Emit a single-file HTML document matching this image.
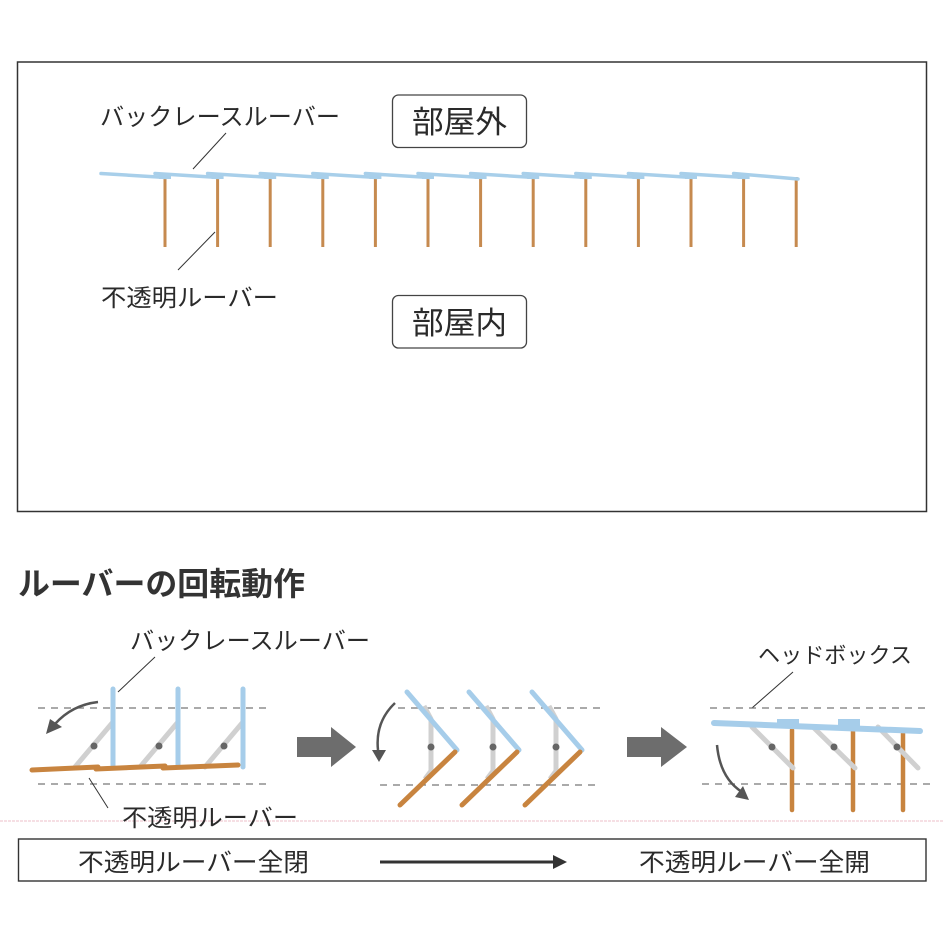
<!DOCTYPE html>
<html><head><meta charset="utf-8"><style>
html,body{margin:0;padding:0;background:#fff;}
svg{display:block;}
text{font-family:"Liberation Sans","Noto Sans CJK JP",sans-serif;fill:#2a2a2a;}
</style></head><body>
<svg width="944" height="944" viewBox="0 0 944 944" xmlns="http://www.w3.org/2000/svg">
<rect x="0" y="0" width="944" height="944" fill="#fff"/>
<!-- top frame -->
<rect x="17.5" y="62" width="909" height="449.5" fill="none" stroke="#333" stroke-width="1.5"/>

<!-- top labels -->
<text x="100" y="125" font-size="24" textLength="240" lengthAdjust="spacingAndGlyphs">バックレースルーバー</text>
<line x1="193" y1="169" x2="226" y2="133" stroke="#333" stroke-width="1"/>
<text x="101" y="306" font-size="24" textLength="177" lengthAdjust="spacingAndGlyphs">不透明ルーバー</text>
<line x1="178" y1="270" x2="215" y2="232" stroke="#333" stroke-width="1"/>

<rect x="392.5" y="95" width="134" height="52.5" rx="6" fill="#fff" stroke="#444" stroke-width="1.3"/>
<text x="459.5" y="133" font-size="31" text-anchor="middle" textLength="95" lengthAdjust="spacingAndGlyphs">部屋外</text>
<rect x="392.5" y="295.5" width="134" height="52.5" rx="6" fill="#fff" stroke="#444" stroke-width="1.3"/>
<text x="459.5" y="334" font-size="31" text-anchor="middle" textLength="95" lengthAdjust="spacingAndGlyphs">部屋内</text>

<!-- top louvers -->
<g stroke="#c68a4f" stroke-width="3">
<line x1="165" y1="177" x2="165" y2="247"/>
<line x1="217.6" y1="177" x2="217.6" y2="247"/>
<line x1="270.2" y1="177" x2="270.2" y2="247"/>
<line x1="322.8" y1="177" x2="322.8" y2="247"/>
<line x1="375.4" y1="177" x2="375.4" y2="247"/>
<line x1="428" y1="177" x2="428" y2="247"/>
<line x1="480.6" y1="177" x2="480.6" y2="247"/>
<line x1="533.2" y1="177" x2="533.2" y2="247"/>
<line x1="585.8" y1="177" x2="585.8" y2="247"/>
<line x1="638.4" y1="177" x2="638.4" y2="247"/>
<line x1="691" y1="177" x2="691" y2="247"/>
<line x1="743.6" y1="177" x2="743.6" y2="247"/>
<line x1="796.2" y1="177" x2="796.2" y2="247"/>
</g>
<g stroke="#a8cfea" stroke-width="3.5" stroke-linecap="round">
<line x1="101" y1="173.5" x2="166" y2="177.5"/>
<line x1="155" y1="173.5" x2="219" y2="177.5"/>
<line x1="207.6" y1="173.5" x2="271.6" y2="177.5"/>
<line x1="260.2" y1="173.5" x2="324.2" y2="177.5"/>
<line x1="312.8" y1="173.5" x2="376.8" y2="177.5"/>
<line x1="365.4" y1="173.5" x2="429.4" y2="177.5"/>
<line x1="418" y1="173.5" x2="482" y2="177.5"/>
<line x1="470.6" y1="173.5" x2="534.6" y2="177.5"/>
<line x1="523.2" y1="173.5" x2="587.2" y2="177.5"/>
<line x1="575.8" y1="173.5" x2="639.8" y2="177.5"/>
<line x1="628.4" y1="173.5" x2="692.4" y2="177.5"/>
<line x1="681" y1="173.5" x2="745" y2="177.5"/>
<line x1="733.6" y1="173.5" x2="798" y2="179"/>
</g>
<g fill="#a8cfea">
<rect x="159" y="174" width="12" height="5"/>
<rect x="211.6" y="174" width="12" height="5"/>
<rect x="264.2" y="174" width="12" height="5"/>
<rect x="316.8" y="174" width="12" height="5"/>
<rect x="369.4" y="174" width="12" height="5"/>
<rect x="422" y="174" width="12" height="5"/>
<rect x="474.6" y="174" width="12" height="5"/>
<rect x="527.2" y="174" width="12" height="5"/>
<rect x="579.8" y="174" width="12" height="5"/>
<rect x="632.4" y="174" width="12" height="5"/>
<rect x="685" y="174" width="12" height="5"/>
<rect x="737.6" y="174" width="12" height="5"/>
</g>

<!-- heading -->
<text x="18" y="595" font-size="32" font-weight="bold" fill="#333" style="fill:#333" textLength="287" lengthAdjust="spacingAndGlyphs">ルーバーの回転動作</text>

<!-- pink scan line -->
<line x1="0" y1="821" x2="944" y2="821" stroke="#f0ccd4" stroke-width="1.2" stroke-dasharray="3 1"/>

<!-- LEFT diagram -->
<text x="130" y="649" font-size="24" textLength="240" lengthAdjust="spacingAndGlyphs">バックレースルーバー</text>
<line x1="118" y1="692" x2="155" y2="657" stroke="#333" stroke-width="1"/>
<g stroke="#777" stroke-width="1.2" stroke-dasharray="7 6">
<line x1="38" y1="708" x2="268" y2="708"/>
<line x1="38" y1="784" x2="268" y2="784"/>
</g>
<g stroke="#d0d0d0" stroke-width="5" stroke-linecap="round">
<line x1="75" y1="767" x2="113" y2="722"/>
<line x1="140" y1="767" x2="178" y2="722"/>
<line x1="205" y1="767" x2="243" y2="722"/>
</g>
<g stroke="#a6cdea" stroke-width="5" stroke-linecap="round">
<line x1="113" y1="689" x2="113" y2="767"/>
<line x1="178" y1="689" x2="178" y2="767"/>
<line x1="243" y1="689" x2="243" y2="767"/>
</g>
<g stroke="#c8843f" stroke-width="5" stroke-linecap="round">
<line x1="32" y1="770" x2="98" y2="767"/>
<line x1="96" y1="769" x2="165" y2="766"/>
<line x1="163" y1="768" x2="238" y2="765"/>
</g>
<g fill="#666">
<circle cx="94" cy="746" r="3.5"/>
<circle cx="159" cy="746" r="3.5"/>
<circle cx="224" cy="746" r="3.5"/>
</g>
<path d="M98,702 Q72,705 55,724" fill="none" stroke="#555" stroke-width="2.5"/>
<polygon points="46,734 50,719 62,727" fill="#555"/>
<line x1="89" y1="778" x2="108" y2="808" stroke="#333" stroke-width="1"/>
<text x="122" y="826" font-size="24" textLength="176" lengthAdjust="spacingAndGlyphs">不透明ルーバー</text>

<!-- big grey arrows -->
<polygon points="297,737 331,737 331,727 356,747 331,767 331,757 297,757" fill="#6d6d6d"/>
<polygon points="627,737 661,737 661,727 687,747 661,767 661,757 627,757" fill="#6d6d6d"/>

<!-- MIDDLE diagram -->
<g stroke="#777" stroke-width="1.2" stroke-dasharray="7 6">
<line x1="398" y1="708" x2="605" y2="708"/>
<line x1="380" y1="785" x2="598" y2="785"/>
</g>
<g fill="none" stroke="#d0d0d0" stroke-width="5" stroke-linejoin="round">
<polyline points="424,706 431,719 431,771 425,779"/>
<polyline points="486,706 493,719 493,771 487,779"/>
<polyline points="549,706 556,719 556,771 550,779"/>
</g>
<g stroke="#a6cdea" stroke-width="5" stroke-linecap="round">
<line x1="407" y1="692" x2="457" y2="750"/>
<line x1="469" y1="692" x2="519" y2="750"/>
<line x1="532" y1="692" x2="582" y2="750"/>
</g>
<g stroke="#c8843f" stroke-width="5" stroke-linecap="round">
<line x1="400" y1="805" x2="455" y2="752"/>
<line x1="462" y1="805" x2="517" y2="752"/>
<line x1="525" y1="805" x2="580" y2="752"/>
</g>
<g fill="#666">
<circle cx="431" cy="747" r="3.5"/>
<circle cx="493" cy="747" r="3.5"/>
<circle cx="556" cy="747" r="3.5"/>
</g>
<path d="M395,703 Q375,722 378,750" fill="none" stroke="#555" stroke-width="2.5"/>
<polygon points="372,750 386,750 379,762" fill="#555"/>

<!-- RIGHT diagram -->
<text x="758" y="663" font-size="22" textLength="154" lengthAdjust="spacingAndGlyphs">ヘッドボックス</text>
<line x1="752" y1="708" x2="793" y2="672" stroke="#333" stroke-width="1"/>
<g stroke="#777" stroke-width="1.2" stroke-dasharray="7 6">
<line x1="710" y1="708" x2="930" y2="708"/>
<line x1="702" y1="784" x2="932" y2="784"/>
</g>
<g stroke="#c8843f" stroke-width="4.5" stroke-linecap="round">
<line x1="792" y1="730" x2="792" y2="810"/>
<line x1="853" y1="730" x2="853" y2="810"/>
<line x1="903" y1="730" x2="903" y2="810"/>
</g>
<g stroke="#d0d0d0" stroke-width="5" stroke-linecap="round">
<line x1="752" y1="727" x2="793" y2="768"/>
<line x1="813" y1="727" x2="855" y2="768"/>
<line x1="878" y1="727" x2="918" y2="768"/>
</g>
<line x1="714" y1="723" x2="920" y2="731" stroke="#a6cdea" stroke-width="6" stroke-linecap="round"/>
<g fill="#a6cdea">
<rect x="777" y="719" width="22" height="8"/>
<rect x="838" y="719" width="22" height="8"/>
</g>
<g fill="#666">
<circle cx="772" cy="747" r="3.5"/>
<circle cx="834" cy="747" r="3.5"/>
<circle cx="897" cy="747" r="3.5"/>
</g>
<path d="M717,745 Q720,778 742,792" fill="none" stroke="#555" stroke-width="2.5"/>
<polygon points="749,800 735,797 743,786" fill="#555"/>

<!-- bottom box -->
<rect x="18.5" y="839" width="907.5" height="42" fill="none" stroke="#333" stroke-width="1.4"/>
<text x="78" y="871" font-size="25" textLength="231" lengthAdjust="spacingAndGlyphs">不透明ルーバー全閉</text>
<line x1="380" y1="862" x2="555" y2="862" stroke="#333" stroke-width="3"/>
<polygon points="553,855 567,862 553,869" fill="#333"/>
<text x="639" y="871" font-size="25" textLength="231" lengthAdjust="spacingAndGlyphs">不透明ルーバー全開</text>
</svg>
</body></html>
